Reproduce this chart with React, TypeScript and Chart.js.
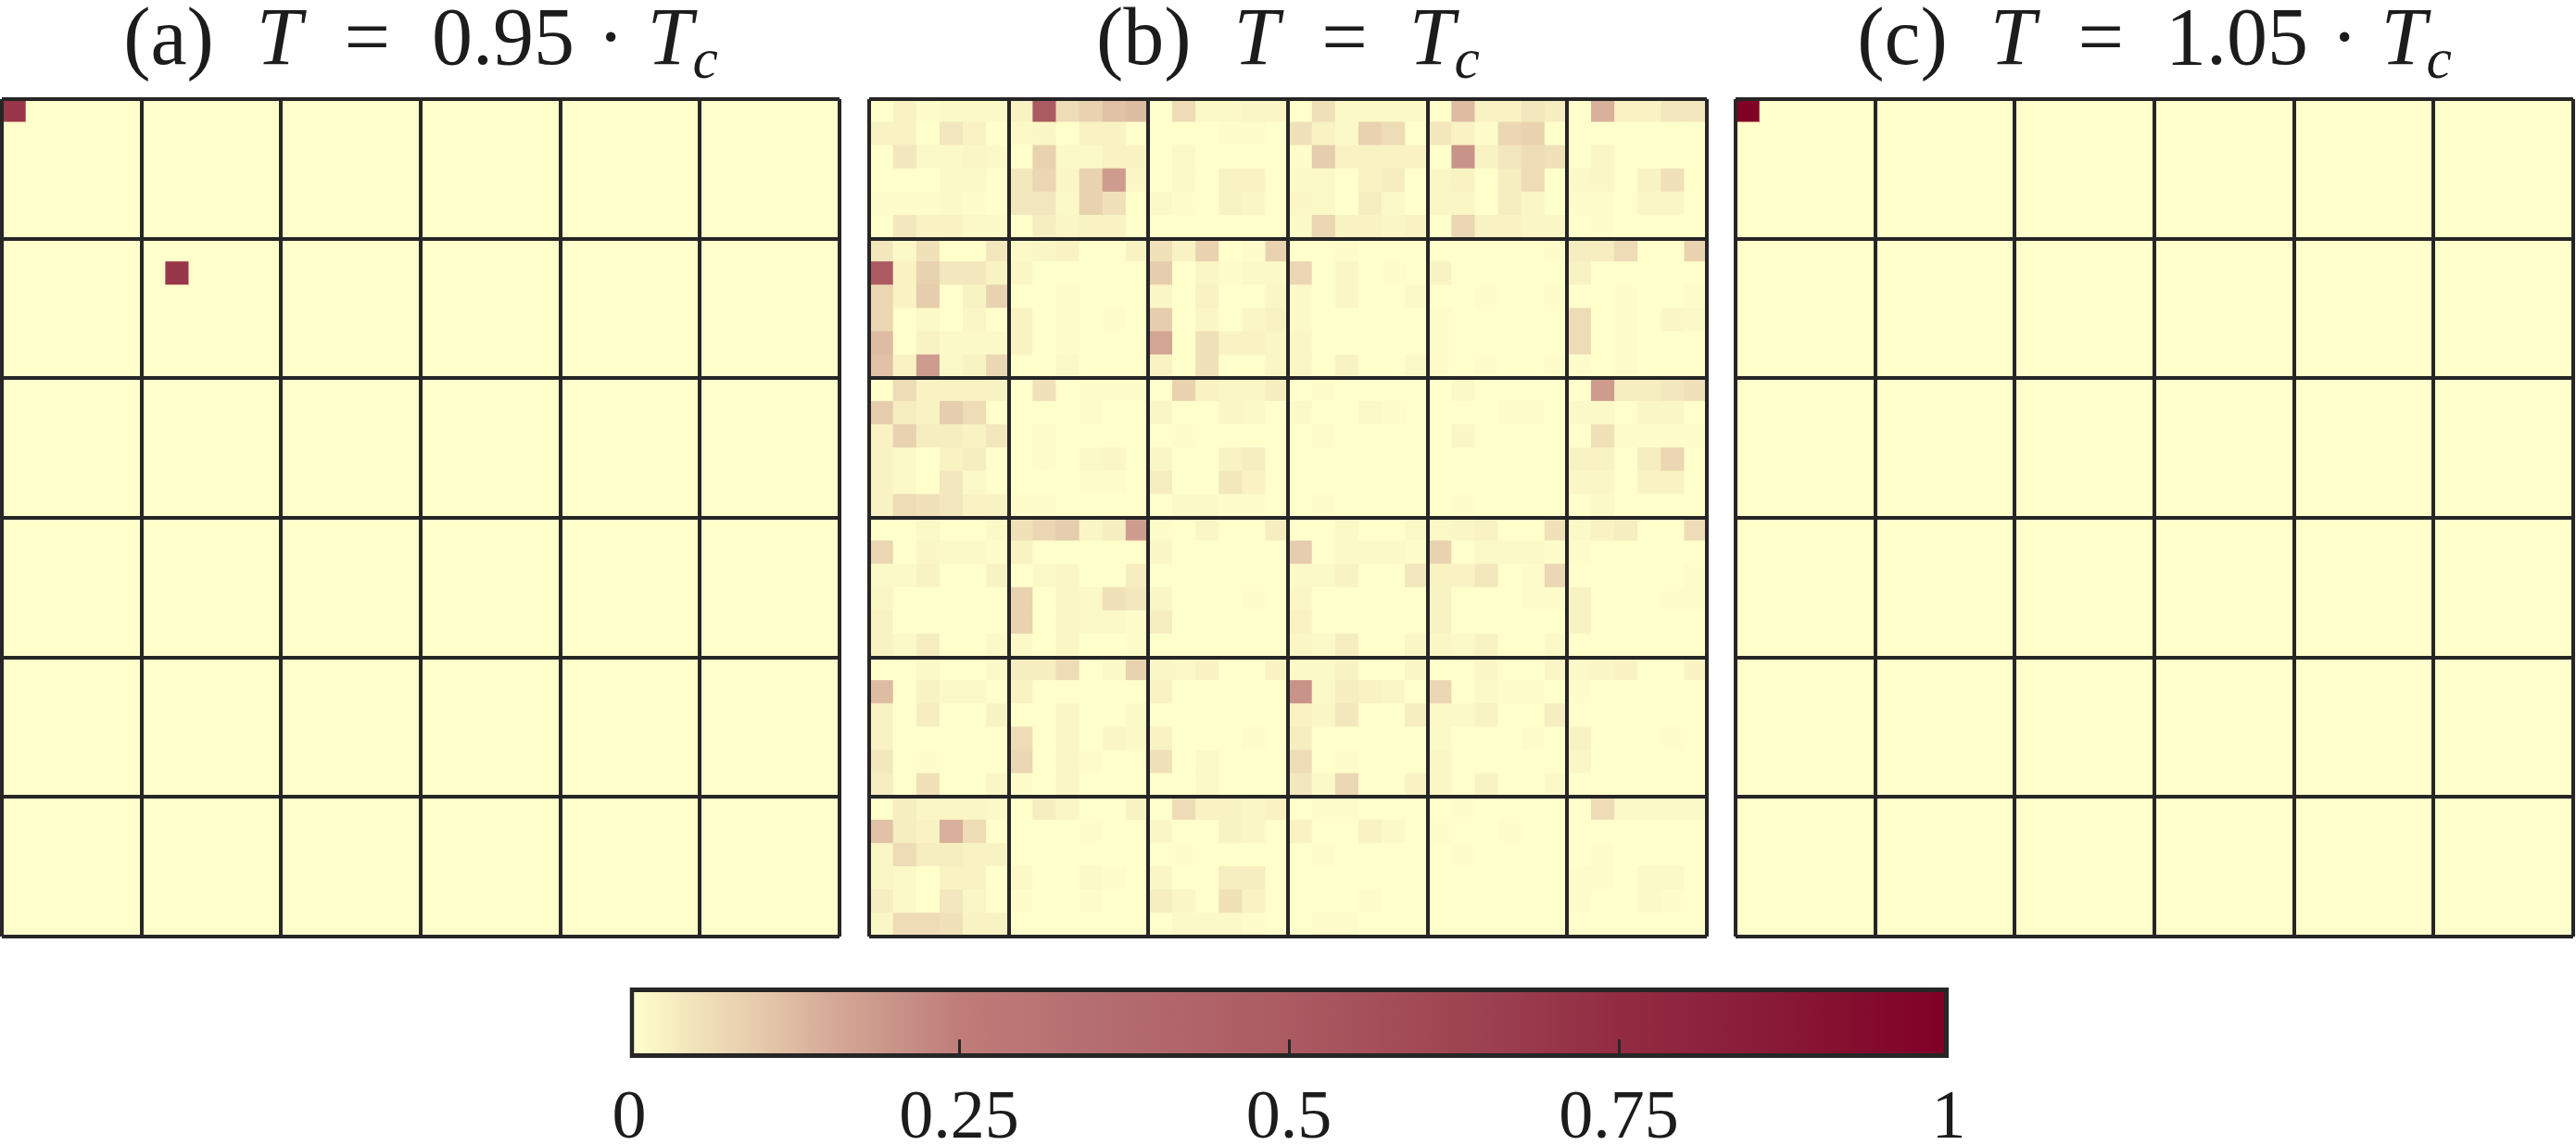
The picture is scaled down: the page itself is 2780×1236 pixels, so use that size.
import React, { useEffect, useRef } from 'react';
import { Chart, registerables } from 'chart.js';

Chart.register(...registerables);

// ---------------- data ----------------
const GRID_SIZE = 36;
const BLOCK_SIZE = 6;
const rowIndex: number[] = Array.from({ length: GRID_SIZE }, (_, i) => i);
const colIndex: number[] = Array.from({ length: GRID_SIZE }, (_, i) => i);
const rowLabels: string[] = rowIndex.map((i) => String(i + 1));

// Panel (a) T = 0.95 Tc : two isolated peaks, everything else 0
const panelAPeaks = [
  { row: 0, col: 0, value: 0.7 },
  { row: 7, col: 7, value: 0.7 },
];
// Panel (c) T = 1.05 Tc : one peak
const panelCPeaks = [{ row: 0, col: 0, value: 1.0 }];

// Panel (b) T = Tc : 36 x 36 values, split by block rows (6 rows each)
const bBlockRow0: number[][] = [
  [0,.02,.005,.01,.01,.01, .02,.5,.06,.08,.11,.12, 0,.06,.01,.01,.015,.015, 0,.05,.01,.01,.01,.01, 0,.12,.02,.02,.04,.03, 0,.14,.02,.02,.04,.04],
  [.02,.02,0,.04,.02,0, .01,.015,0,.02,.02,0, 0,0,0,.005,.005,0, .05,.02,.01,.08,.06,0, .04,.02,.005,.07,.08,0, 0,0,0,0,0,0],
  [0,.04,.01,.01,.015,.01, 0,.08,.01,.01,.02,.02, 0,.01,0,0,0,0, .005,.09,.02,.02,.02,.02, 0,.2,.02,.04,.06,.05, 0,.015,0,0,0,0],
  [0,0,0,.01,.01,0, .04,.07,.015,.08,.18,.015, 0,.01,0,.02,.02,0, .01,.01,0,.02,.03,0, .015,.02,0,.03,.06,0, .01,.015,0,.02,.05,0],
  [.005,.005,.005,.01,.005,0, .04,.04,.01,.08,.05,0, .01,.005,0,.02,.015,0, .015,.01,0,.03,.01,0, .015,.015,0,.03,.015,0, .005,.005,0,.015,.015,0],
  [0,.04,.02,.02,.01,.01, 0,.03,.015,.02,.02,0, 0,0,0,0,0,0, .01,.07,.02,.02,.015,.02, 0,.07,.02,.02,.015,.015, 0,.005,0,0,0,0],
];
const bBlockRow1: number[][] = [
  [.04,.01,.05,0,0,.04, .01,.015,.02,0,0,.02, .05,.02,.08,0,.005,.08, 0,0,.005,0,0,0, 0,0,0,0,0,.005, .03,.03,.06,0,0,.08],
  [.5,.02,.08,.04,.04,.02, .015,0,0,0,0,0, .09,0,.015,.005,.01,.01, .07,0,.015,0,.005,0, .02,0,0,0,0,0, .02,0,0,0,0,0],
  [.07,.02,.09,0,.02,.08, 0,0,.005,0,0,0, .015,0,.02,0,0,.015, .01,0,.015,0,0,.01, 0,0,.005,0,0,.005, 0,0,.005,0,0,.005],
  [.07,0,.01,0,.015,0, .02,0,.005,0,.005,0, .09,0,.015,0,.015,.02, .01,0,0,0,0,0, .005,0,0,0,0,0, .06,0,.005,0,.015,.01],
  [.12,0,.02,.01,.01,.01, .02,0,.005,0,0,0, .16,0,.05,.02,.02,.015, .015,0,0,0,0,0, .005,0,0,0,0,0, .06,0,.005,0,0,0],
  [.11,.02,.18,.01,.02,.07, 0,0,.01,0,0,0, .02,0,.05,0,0,.015, .015,0,.02,0,0,.01, .005,0,.005,0,0,.005, .005,0,.005,0,0,0],
];
const bBlockRow2: number[][] = [
  [0,.06,.02,.02,.02,.02, 0,.05,0,.005,.005,.005, 0,.08,.02,.015,.015,.03, 0,.005,0,0,0,0, 0,.01,0,0,0,0, 0,.18,.03,.03,.04,.05],
  [.09,.03,.02,.09,.06,0, 0,0,0,.005,0,0, .015,0,0,.015,.01,0, .01,0,0,.01,.005,0, 0,0,0,.005,.005,0, .01,.01,0,.015,.015,0],
  [.02,.08,.03,.03,.02,.04, 0,.005,0,0,0,0, 0,.005,0,0,0,0, 0,.005,0,0,0,0, 0,.015,0,0,0,0, 0,.05,.005,.005,.005,.005],
  [.02,.01,0,.02,.03,0, 0,.005,0,.01,.015,0, .015,0,0,.02,.03,0, 0,0,0,0,0,0, 0,0,0,0,0,0, .02,.02,0,.03,.07,0],
  [.02,.01,0,.04,.01,0, 0,0,0,.005,.005,0, .03,0,0,.04,.02,0, 0,0,0,0,0,0, 0,0,0,0,0,0, .015,.015,0,.02,.02,0],
  [.02,.06,.05,.04,.02,.02, .005,.005,0,0,0,0, 0,.01,.01,.005,.005,0, 0,.005,0,0,0,0, 0,.005,0,0,0,0, 0,.01,0,0,0,0],
];
const bBlockRow3: number[][] = [
  [0,0,.01,0,0,.01, .05,.07,.09,.015,.03,.18, .005,0,.015,0,0,.03, 0,0,.01,0,0,.01, .01,.015,.02,0,0,.05, .01,.02,.03,0,0,.06],
  [.07,0,.015,.01,.01,.005, .02,0,0,0,0,0, .015,0,0,0,0,0, .09,0,.01,.01,.01,.005, .08,0,.01,.01,.01,.005, .005,0,0,0,0,0],
  [.01,.01,.02,0,0,.02, 0,.01,.015,0,0,.03, 0,0,0,0,0,0, .01,.01,.02,0,0,.04, .02,.02,.04,0,.005,.07, 0,0,0,0,0,.005],
  [.015,0,0,0,0,0, .08,0,.015,.01,.05,.04, .015,0,0,0,.005,0, .015,0,0,0,0,0, .02,0,0,0,.005,.005, .02,0,0,0,.005,.005],
  [.02,0,0,0,0,0, .08,0,.015,.01,.01,.005, .03,0,0,0,0,0, .02,0,0,0,0,0, .02,0,0,0,0,0, .02,0,0,0,0,0],
  [.02,.01,.03,0,0,.01, .01,0,.015,0,0,.005, 0,0,0,0,0,0, .015,.01,.03,0,0,.015, .015,.01,.02,0,0,.01, 0,0,0,0,0,0],
];
const bBlockRow4: number[][] = [
  [0,0,.01,0,0,.01, .03,.03,.06,0,.01,.08, .015,.01,.02,0,0,.02, .01,.01,.02,0,0,.015, 0,0,.015,0,0,.015, .01,.015,.02,0,0,.02],
  [.12,0,.02,.01,.01,0, .02,0,0,0,0,0, .02,0,0,0,0,0, .2,.01,.03,.02,.015,0, .07,0,.01,.005,.005,0, .005,0,0,0,0,0],
  [.02,0,.03,0,0,.02, 0,0,.015,0,0,.01, 0,0,0,0,0,0, .02,.015,.04,0,0,.03, .01,.01,.02,0,0,.03, 0,0,0,0,0,0],
  [.02,0,0,0,0,0, .06,0,.015,0,.015,.01, .02,0,0,0,.005,0, .03,0,0,0,0,0, .01,0,0,0,.005,0, .02,0,0,0,.005,0],
  [.04,0,.005,0,0,0, .07,0,.015,.005,0,0, .05,0,.01,0,0,0, .06,0,.005,0,0,0, .015,0,0,0,0,0, .015,0,0,0,0,0],
  [.03,0,.05,0,0,.015, .005,0,.015,0,0,0, 0,0,.01,0,0,0, .04,.01,.07,0,0,.02, .015,0,.02,0,0,.01, 0,0,0,0,0,0],
];
const bBlockRow5: number[][] = [
  [0,.03,.015,.015,.015,.01, 0,.03,.015,0,0,.02, 0,.06,.02,.02,.015,.02, 0,.005,.005,0,0,0, 0,.005,0,0,0,0, 0,.06,.01,.01,.01,.01],
  [.11,.03,.02,.14,.06,0, 0,0,0,.005,0,0, .015,0,0,.02,.015,0, .02,0,0,.02,.01,0, .005,0,0,.005,0,0, 0,0,0,0,0,0],
  [.015,.06,.03,.03,.02,.02, 0,0,0,0,0,0, 0,.005,0,0,0,0, 0,.005,0,0,0,0, 0,.005,0,0,0,0, 0,.005,0,0,0,0],
  [.015,.01,0,.02,.02,0, .01,0,0,.01,.005,0, .015,0,0,.03,.03,0, 0,0,0,0,0,0, 0,0,0,0,0,0, .005,.005,0,.01,.01,0],
  [.03,.01,0,.04,.015,0, .005,0,0,.005,0,0, .03,.015,0,.05,.02,0, 0,0,0,.005,0,0, 0,0,0,0,0,0, .005,0,0,.01,.005,0],
  [.015,.06,.06,.05,.02,.02, 0,0,0,0,0,0, 0,.01,.01,.01,.005,0, 0,.005,.005,0,0,0, 0,0,0,0,0,0, 0,0,0,0,0,0],
];

// colour bar
const cbTickValues = [0, 0.25, 0.5, 0.75, 1];
const cbTickLabels = ['0', '0.25', '0.5', '0.75', '1'];

// ---------------- styles ----------------
const DARK = '#262626';
const TEXT = '#1c1c1c';
const SERIF = "'Liberation Serif', 'DejaVu Serif', serif";
const cmapStops: [number, string][] = [
  [0, '#FFFFCC'], [0.05, '#F0E1B9'], [0.1, '#E4C8AA'], [0.15, '#D6AA97'],
  [0.2, '#C89388'], [0.25, '#BF7C78'], [0.35, '#B56E70'], [0.5, '#AB5A62'],
  [0.65, '#9C414F'], [0.75, '#932C43'], [0.87, '#881A36'], [1, '#800026'],
];

function hexToRgb(h: string): number[] {
  const n = parseInt(h.slice(1), 16);
  return [(n >> 16) & 255, (n >> 8) & 255, n & 255];
}
function cmap(v: number): string {
  const x = Math.max(0, Math.min(1, v));
  for (let i = 1; i < cmapStops.length; i++) {
    const [p1, c1] = cmapStops[i];
    const [p0, c0] = cmapStops[i - 1];
    if (x <= p1) {
      const t = (x - p0) / (p1 - p0);
      const a = hexToRgb(c0);
      const b = hexToRgb(c1);
      const c = a.map((ai, k) => Math.round(ai + (b[k] - ai) * t));
      return `rgb(${c[0]},${c[1]},${c[2]})`;
    }
  }
  return cmapStops[cmapStops.length - 1][1];
}

function denseFromPeaks(peaks: { row: number; col: number; value: number }[]): number[][] {
  const m = rowIndex.map(() => colIndex.map(() => 0));
  peaks.forEach((p) => { m[p.row][p.col] = p.value; });
  return m;
}

const panelA = denseFromPeaks(panelAPeaks);
const panelB = [...bBlockRow0, ...bBlockRow1, ...bBlockRow2, ...bBlockRow3, ...bBlockRow4, ...bBlockRow5];
const panelC = denseFromPeaks(panelCPeaks);

function heatConfig(matrix: number[][]): any {
  const datasets = colIndex.map((c) => ({
    label: `col ${c}`,
    data: matrix.map(() => 1),
    backgroundColor: matrix.map((row) => cmap(row[c])),
    borderWidth: 0,
    barPercentage: 1,
    categoryPercentage: 1,
    inflateAmount: 0.6,
    stack: 'cells',
  }));
  return {
    type: 'bar',
    data: { labels: rowLabels, datasets },
    options: {
      indexAxis: 'y',
      animation: false,
      responsive: false,
      maintainAspectRatio: false,
      events: [],
      layout: { padding: 2 },
      plugins: { legend: { display: false }, tooltip: { enabled: false }, title: { display: false } },
      scales: {
        x: {
          type: 'linear', stacked: true, min: 0, max: GRID_SIZE, position: 'bottom',
          ticks: { display: false, stepSize: BLOCK_SIZE },
          grid: { z: 1, color: DARK, lineWidth: 4, drawTicks: false },
          border: { display: false },
        },
        y: {
          type: 'category', stacked: true, position: 'left', offset: true,
          ticks: { display: false },
          grid: {
            z: 1, offset: true, drawTicks: false, lineWidth: 4,
            color: (ctx: any) => (ctx.index === undefined || ctx.index % BLOCK_SIZE === 0 ? DARK : 'rgba(0,0,0,0)'),
          },
          border: { display: false },
        },
      },
    },
  };
}

function HeatPanel({ matrix, left }: { matrix: number[][]; left: number }) {
  const ref = useRef<HTMLCanvasElement>(null);
  useEffect(() => {
    const chart = new Chart(ref.current as HTMLCanvasElement, heatConfig(matrix));
    return () => chart.destroy();
  }, [matrix]);
  return (
    <canvas ref={ref} width={908} height={908}
      style={{ position: 'absolute', left, top: 105, width: 908, height: 908 }} />
  );
}

function makeGradient(chart: any) {
  const area = chart.chartArea;
  if (!area) return cmapStops[0][1];
  const g = chart.ctx.createLinearGradient(area.left + 5, 0, area.right - 5, 0);
  cmapStops.forEach(([p, c]) => g.addColorStop(p, c));
  return g;
}

function ColorBar() {
  const ref = useRef<HTMLCanvasElement>(null);
  useEffect(() => {
    const chart = new Chart(ref.current as HTMLCanvasElement, {
      type: 'bar',
      data: {
        labels: ['colorbar'],
        datasets: [{
          data: [[0, 1]] as any,
          backgroundColor: (ctx: any) => makeGradient(ctx.chart),
          borderColor: DARK,
          borderWidth: 5,
          borderSkipped: false,
          barPercentage: 1,
          categoryPercentage: 1,
          inflateAmount: 0,
        } as any],
      },
      options: {
        indexAxis: 'y',
        animation: false,
        responsive: false,
        maintainAspectRatio: false,
        events: [],
        layout: { padding: { left: 79, right: 97, top: 16, bottom: 0 } },
        plugins: { legend: { display: false }, tooltip: { enabled: false } },
        scales: {
          x: {
            type: 'linear', min: 0, max: 1, position: 'bottom',
            afterBuildTicks: (s: any) => { s.ticks = cbTickValues.map((v) => ({ value: v })); },
            afterFit: (s: any) => { s.height = 94; },
            grid: {
              z: 1, display: true, drawOnChartArea: false, drawTicks: true, tickLength: -20, tickWidth: 3,
              tickColor: (ctx: any) => (ctx.tick && (ctx.tick.value === 0 || ctx.tick.value === 1) ? 'rgba(0,0,0,0)' : DARK),
            },
            border: { display: false },
            ticks: {
              padding: 42, color: TEXT, autoSkip: false, maxRotation: 0,
              font: { family: SERIF, size: 74 },
              callback: (_v: any, i: number) => cbTickLabels[i],
            },
          },
          y: { display: false },
        },
      } as any,
    });
    return () => chart.destroy();
  }, []);
  return (
    <canvas ref={ref} width={1600} height={186}
      style={{ position: 'absolute', left: 600, top: 1050, width: 1600, height: 186 }} />
  );
}

const titleStyle = (left: number): React.CSSProperties => ({
  position: 'absolute', left, top: -10, width: 908, height: 100,
  textAlign: 'center', fontFamily: SERIF, fontSize: 88, lineHeight: '100px',
  color: TEXT, whiteSpace: 'nowrap',
});
const sub: React.CSSProperties = { fontSize: '0.7em', fontStyle: 'italic', position: 'relative', top: '0.25em' };

export default function App() {
  return (
    <div style={{ position: 'absolute', left: 0, top: 0, width: 2780, height: 1236, background: '#fff', overflow: 'hidden' }}>
      <div style={titleStyle(0)}>
        <span>(a)</span>
        <i style={{ marginLeft: '0.52em' }}>T</i>
        <span style={{ marginLeft: '0.52em' }}>=</span>
        <span style={{ marginLeft: '0.51em' }}>0.95</span>
        <span style={{ marginLeft: '0.28em' }}>·</span>
        <i style={{ marginLeft: '0.28em' }}>T</i>
        <span style={sub}>c</span>
      </div>
      <div style={titleStyle(936)}>
        <span>(b)</span>
        <i style={{ marginLeft: '0.52em' }}>T</i>
        <span style={{ marginLeft: '0.52em' }}>=</span>
        <i style={{ marginLeft: '0.51em' }}>T</i>
        <span style={sub}>c</span>
      </div>
      <div style={titleStyle(1871)}>
        <span>(c)</span>
        <i style={{ marginLeft: '0.52em' }}>T</i>
        <span style={{ marginLeft: '0.52em' }}>=</span>
        <span style={{ marginLeft: '0.51em' }}>1.05</span>
        <span style={{ marginLeft: '0.28em' }}>·</span>
        <i style={{ marginLeft: '0.28em' }}>T</i>
        <span style={sub}>c</span>
      </div>
      <HeatPanel matrix={panelA} left={0} />
      <HeatPanel matrix={panelB} left={936} />
      <HeatPanel matrix={panelC} left={1871} />
      <ColorBar />
    </div>
  );
}
